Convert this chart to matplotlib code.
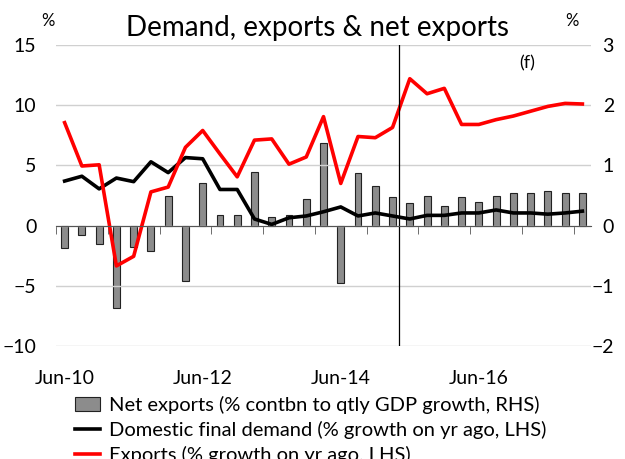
import numpy as np
import matplotlib.pyplot as plt
from matplotlib.patches import Patch
from matplotlib.lines import Line2D

plt.rcParams['font.family'] = ['Lato', 'DejaVu Sans']

# ── Data (quarterly, Jun-10 .. Dec-17) ────────────────────────────────────────
quarters = ['Jun-10', 'Sep-10', 'Dec-10', 'Mar-11', 'Jun-11', 'Sep-11', 'Dec-11',
            'Mar-12', 'Jun-12', 'Sep-12', 'Dec-12', 'Mar-13', 'Jun-13', 'Sep-13',
            'Dec-13', 'Mar-14', 'Jun-14', 'Sep-14', 'Dec-14', 'Mar-15', 'Jun-15',
            'Sep-15', 'Dec-15', 'Mar-16', 'Jun-16', 'Sep-16', 'Dec-16', 'Mar-17',
            'Jun-17', 'Sep-17', 'Dec-17']

# net exports, % contribution to qtly GDP growth (RHS)
net_exports = [-0.38, -0.15, -0.30, -1.37, -0.35, -0.43, 0.49, -0.92, 0.71, 0.18,
               0.18, 0.89, 0.15, 0.17, 0.44, 1.37, -0.95, 0.88, 0.66, 0.47,
               0.37, 0.49, 0.32, 0.47, 0.39, 0.49, 0.54, 0.54, 0.58, 0.54, 0.54]

# domestic final demand, % growth on yr ago (LHS)
domestic_demand = [3.7, 4.1, 3.05, 3.95, 3.65, 5.3, 4.4, 5.65, 5.55, 3.0,
                   3.0, 0.55, 0.1, 0.65, 0.8, 1.15, 1.55, 0.8, 1.05, 0.8,
                   0.55, 0.85, 0.85, 1.05, 1.05, 1.3, 1.05, 1.05, 0.95, 1.05, 1.2]

# exports, % growth on yr ago (LHS)
exports = [8.55, 4.95, 5.05, -3.35, -2.55, 2.8, 3.2, 6.5, 7.9, 5.95,
           4.05, 7.1, 7.2, 5.1, 5.7, 9.05, 3.5, 7.4, 7.3, 8.15,
           12.2, 10.95, 11.4, 8.4, 8.4, 8.8, 9.1, 9.5, 9.9, 10.15, 10.1]

label_quarters = ['Jun-10', 'Jun-12', 'Jun-14', 'Jun-16']
forecast_start = 19.37   # position of the forecast divider (category units)

x = np.arange(len(quarters))

# ── Plot ──────────────────────────────────────────────────────────────────────
fig = plt.figure(figsize=(6.25, 4.59), dpi=100)
ax = fig.add_axes([56 / 625, 1 - 346 / 459, 535 / 625, 301 / 459])
ax2 = ax.twinx()

ax2.bar(x, net_exports, width=0.4, color='#8c8c8c', edgecolor='#222222', lw=0.8)
ax.set_zorder(ax2.get_zorder() + 1)
ax.patch.set_visible(False)

ax.plot(x, domestic_demand, color='black', lw=2.6, solid_joinstyle='round')
ax.plot(x, exports, color='#ff0000', lw=2.6, solid_joinstyle='round')
ax.axvline(forecast_start, color='black', lw=0.9)

ax.set_xlim(-0.5, len(quarters) - 0.5)
ax.set_ylim(-10, 15)
ax2.set_ylim(-2, 3)
ax.set_yticks([-10, -5, 0, 5, 10, 15])
ax2.set_yticks([-2, -1, 0, 1, 2, 3])
ax.grid(axis='y', color='#d0d0d0', lw=1)
ax.set_axisbelow(True)

for a in (ax, ax2):
    for s in ('left', 'right', 'top'):
        a.spines[s].set_visible(False)
ax2.spines['bottom'].set_visible(False)
ax.spines['bottom'].set_position(('data', 0))
ax.spines['bottom'].set_color('#555555')

ax.tick_params(axis='y', length=0, pad=14, labelsize=14)
ax2.tick_params(axis='y', length=0, pad=16.5, labelsize=14)
for lbl in ax2.get_yticklabels():
    lbl.set_horizontalalignment('right')

# tick marks on the zero line, every three quarters
ax.set_xticks(np.arange(-0.5, len(quarters), 3), minor=True)
ax.set_xticks([])
ax.tick_params(axis='x', which='minor', length=6, color='#555555', direction='out')

# date labels along the bottom
secx = ax.secondary_xaxis('bottom')
secx.set_xticks([quarters.index(q) for q in label_quarters])
secx.set_xticklabels(label_quarters)
secx.tick_params(length=0, pad=17, labelsize=14)
secx.spines['bottom'].set_visible(False)

ax.text(0.88, 0.94, '(f)', transform=ax.transAxes, fontsize=13, ha='center', va='center')

fig.text(317 / 625, 1 - 28 / 459, 'Demand, exports & net exports', fontsize=20,
         ha='center', va='center')
fig.text(48 / 625, 1 - 21 / 459, '%', fontsize=12, ha='center', va='center')
fig.text(572 / 625, 1 - 21 / 459, '%', fontsize=12, ha='center', va='center')

handles = [Patch(facecolor='#8c8c8c', edgecolor='#222222', lw=0.8),
           Line2D([], [], color='black', lw=2.6),
           Line2D([], [], color='#ff0000', lw=2.6)]
labels = ['Net exports (% contbn to qtly GDP growth, RHS)',
          'Domestic final demand (% growth on yr ago, LHS)',
          'Exports (% growth on yr ago, LHS)']
fig.legend(handles, labels, loc='upper left', bbox_to_anchor=(75 / 625, 1 - 396 / 459),
           frameon=False, fontsize=14.5, handlelength=1.25, handletextpad=0.45,
           labelspacing=0.35, borderpad=0, borderaxespad=0)

fig.savefig('out.png', dpi=100)
